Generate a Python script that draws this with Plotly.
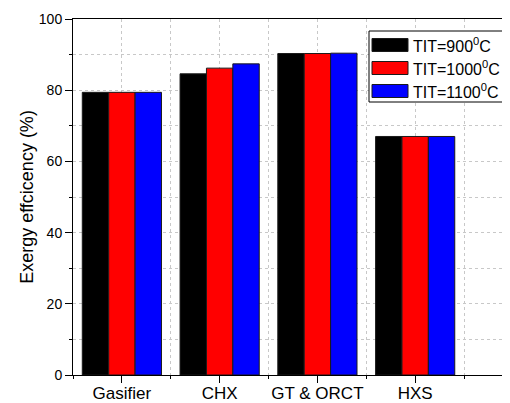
import plotly.graph_objects as go

categories = ["Gasifier", "CHX", "GT & ORCT", "HXS"]
series_names = ["TIT=900<sup>0</sup>C", "TIT=1000<sup>0</sup>C", "TIT=1100<sup>0</sup>C"]
tit_900 = [79.4, 84.6, 90.3, 67.0]
tit_1000 = [79.4, 86.2, 90.3, 67.0]
tit_1100 = [79.4, 87.4, 90.4, 67.0]
series_values = [tit_900, tit_1000, tit_1100]
colors = ["#000000", "#ff0000", "#0000ff"]

FONT = "Liberation Sans, Arial, sans-serif"
xpos = list(range(len(categories)))

fig = go.Figure()
for name, vals, col in zip(series_names, series_values, colors):
    fig.add_trace(go.Bar(
        x=xpos, y=vals, name=name,
        marker=dict(color=col, line=dict(color="#1a1a1a", width=1)),
        showlegend=False,
    ))

# page has an 8px body margin; the figure is sized so its right/bottom meet the window edge
OFF = 8
W, H = 510 - OFF, 403 - OFF
L, R, T, B = 73 - OFF, 0, 19 - OFF, 28
pw, ph = W - L - R, H - T - B

def px_x(p):
    return (p - OFF - L) / pw

def px_y(p):
    return (H - B - (p - OFF)) / ph

# manual legend (box + swatches + labels)
shapes = [dict(type="rect", xref="paper", yref="paper",
               x0=px_x(369), x1=px_x(506), y0=px_y(102), y1=px_y(31),
               line=dict(color="#000000", width=1), fillcolor="white", layer="above")]
annotations = []
row_centers = [45, 68, 91]
for name, col, cy in zip(series_names, colors, row_centers):
    shapes.append(dict(type="rect", xref="paper", yref="paper",
                       x0=px_x(372), x1=px_x(408), y0=px_y(cy + 6.5), y1=px_y(cy - 6.5),
                       line=dict(color="#1a1a1a", width=1), fillcolor=col, layer="above"))
    annotations.append(dict(xref="paper", yref="paper", x=px_x(411), y=px_y(cy),
                            text=name, showarrow=False, xanchor="left", yanchor="middle",
                            font=dict(family=FONT, size=16, color="#000000")))

fig.update_layout(
    width=W, height=H,
    margin=dict(l=L, r=R, t=T, b=B, pad=0, autoexpand=False),
    paper_bgcolor="white", plot_bgcolor="white",
    barmode="group", bargap=0.19, bargroupgap=0,
    font=dict(family=FONT, color="#000000"),
    shapes=shapes, annotations=annotations,
    xaxis=dict(
        automargin=False,
        range=[-0.5, 3.97],
        tickmode="array", tickvals=xpos, ticktext=categories,
        ticks="outside", ticklen=7, tickwidth=1, tickcolor="#000000",
        tickfont=dict(family=FONT, size=17, color="#000000"),
        ticklabelstandoff=-4,
        showline=True, linecolor="#000000", linewidth=1, mirror=True,
        showgrid=True, gridcolor="#c8c8c8", griddash="dot", gridwidth=1,
        zeroline=False,
        minor=dict(tick0=0.5, dtick=1, ticks="outside", ticklen=3, tickcolor="#000000",
                   showgrid=True, gridcolor="#c8c8c8", griddash="dot", gridwidth=1),
    ),
    yaxis=dict(
        automargin=False,
        range=[0, 100],
        tickmode="linear", tick0=0, dtick=20,
        ticks="outside", ticklen=7, tickwidth=1, tickcolor="#000000",
        tickfont=dict(family=FONT, size=14, color="#000000"),
        showline=True, linecolor="#000000", linewidth=1, mirror=False,
        showgrid=True, gridcolor="#c8c8c8", griddash="dot", gridwidth=1,
        zeroline=False,
        title=dict(text="Exergy effcicency (%)", font=dict(family=FONT, size=18, color="#000000"), standoff=0),
        minor=dict(dtick=10, ticks="outside", ticklen=3, tickcolor="#000000",
                   showgrid=True, gridcolor="#c8c8c8", griddash="dot", gridwidth=1),
    ),
)

fig.write_html("out.html")
